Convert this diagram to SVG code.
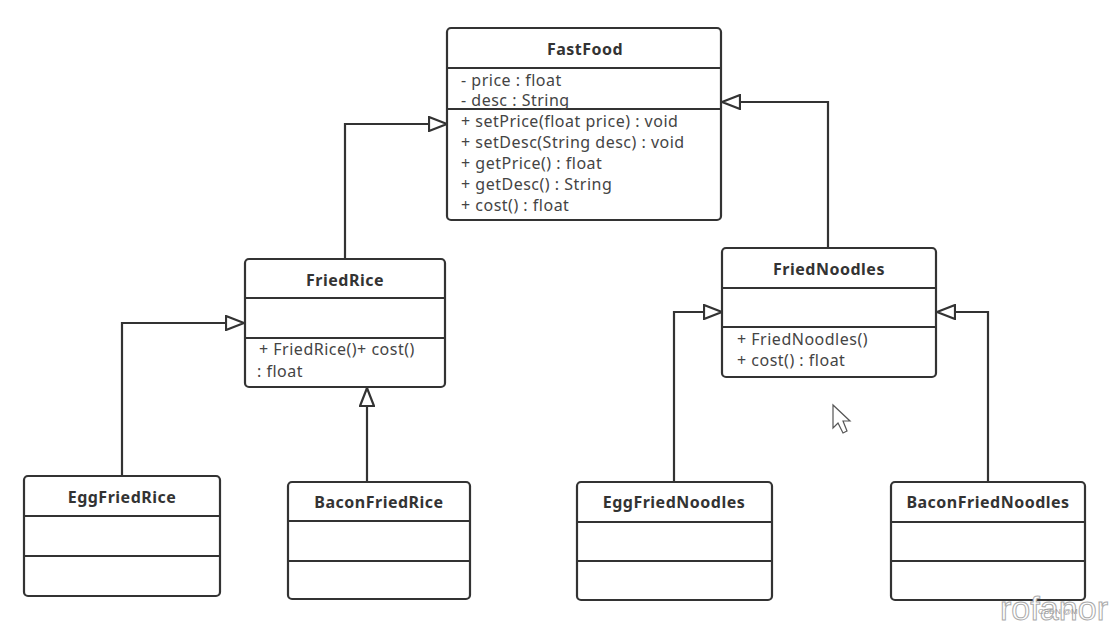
<svg xmlns="http://www.w3.org/2000/svg" width="1117" height="627" viewBox="0 0 1117 627">
<style>
.box{fill:#fff;stroke:#333;stroke-width:2.2}
.div{stroke:#333;stroke-width:2}
.title{font-family:"Noto Sans","Open Sans",sans-serif;font-weight:bold;font-size:16px;letter-spacing:0.5px;fill:#333;text-anchor:middle}
.mem{font-family:"Noto Sans","Open Sans",sans-serif;font-size:16px;letter-spacing:0.5px;fill:#444}
.edge{fill:none;stroke:#333;stroke-width:2.2}
</style>
<defs>
<marker id="tri" viewBox="0 0 20 16" refX="19" refY="8" markerWidth="20" markerHeight="16" markerUnits="userSpaceOnUse" orient="auto">
<path d="M1,1 L19,8 L1,15 Z" fill="#fff" stroke="#333" stroke-width="2.2"/>
</marker>
</defs>
<rect width="1117" height="627" fill="#fff"/>
<g id="connectors">
<path class="edge" d="M345,258 V124 H447" marker-end="url(#tri)"/>
<path class="edge" d="M828,248 V102 H722" marker-end="url(#tri)"/>
<path class="edge" d="M122,476 V323 H244" marker-end="url(#tri)"/>
<path class="edge" d="M367,482 V388" marker-end="url(#tri)"/>
<path class="edge" d="M674,482 V312 H722" marker-end="url(#tri)"/>
<path class="edge" d="M988,482 V312 H937" marker-end="url(#tri)"/>
</g>
<g id="FastFood">
<rect class="box" x="447" y="28" width="274" height="192" rx="4"/>
<line class="div" x1="447" y1="68" x2="721" y2="68"/>
<line class="div" x1="447" y1="109" x2="721" y2="109"/>
<text class="title" x="585" y="55">FastFood</text>
<text class="mem" x="461" y="86">- price : float</text>
<text class="mem" x="461" y="106">- desc : String</text>
<text class="mem" x="461" y="127">+ setPrice(float price) : void</text>
<text class="mem" x="461" y="148">+ setDesc(String desc) : void</text>
<text class="mem" x="461" y="169">+ getPrice() : float</text>
<text class="mem" x="461" y="190">+ getDesc() : String</text>
<text class="mem" x="461" y="211">+ cost() : float</text>
</g>
<g id="FriedRice">
<rect class="box" x="245" y="259" width="200" height="128" rx="4"/>
<line class="div" x1="245" y1="298" x2="445" y2="298"/>
<line class="div" x1="245" y1="338" x2="445" y2="338"/>
<text class="title" x="345" y="286">FriedRice</text>
<text class="mem" x="259" y="355">+ FriedRice()+ cost()</text>
<text class="mem" x="257" y="377">: float</text>
</g>
<g id="FriedNoodles">
<rect class="box" x="722" y="248" width="214" height="129" rx="4"/>
<line class="div" x1="722" y1="288" x2="936" y2="288"/>
<line class="div" x1="722" y1="327" x2="936" y2="327"/>
<text class="title" x="829" y="275">FriedNoodles</text>
<text class="mem" x="737" y="345">+ FriedNoodles()</text>
<text class="mem" x="737" y="366">+ cost() : float</text>
</g>
<g id="EggFriedRice">
<rect class="box" x="24" y="476" width="196" height="120" rx="4"/>
<line class="div" x1="24" y1="516" x2="220" y2="516"/>
<line class="div" x1="24" y1="556" x2="220" y2="556"/>
<text class="title" x="122" y="503">EggFriedRice</text>
</g>
<g id="BaconFriedRice">
<rect class="box" x="288" y="482" width="182" height="117" rx="4"/>
<line class="div" x1="288" y1="521" x2="470" y2="521"/>
<line class="div" x1="288" y1="561" x2="470" y2="561"/>
<text class="title" x="379" y="508">BaconFriedRice</text>
</g>
<g id="EggFriedNoodles">
<rect class="box" x="577" y="482" width="195" height="118" rx="4"/>
<line class="div" x1="577" y1="522" x2="772" y2="522"/>
<line class="div" x1="577" y1="561" x2="772" y2="561"/>
<text class="title" x="674" y="508">EggFriedNoodles</text>
</g>
<g id="BaconFriedNoodles">
<rect class="box" x="891" y="482" width="194" height="118" rx="4"/>
<line class="div" x1="891" y1="522" x2="1085" y2="522"/>
<line class="div" x1="891" y1="561" x2="1085" y2="561"/>
<text class="title" x="988" y="508">BaconFriedNoodles</text>
</g>
<path d="M833,405 L833,428 L838,423 L843,433 L847,431 L843,421 L850,421 Z" fill="#fff" stroke="#555" stroke-width="1.2"/>
<text x="1000" y="620" font-family="Liberation Sans,sans-serif" font-size="34" textLength="108" lengthAdjust="spacingAndGlyphs" fill="#fff" stroke="#aaa" stroke-width="1">rofanor</text>
<text x="1038" y="614" font-family="Liberation Sans,sans-serif" font-size="8" fill="#999">CSDN @M</text>
</svg>
